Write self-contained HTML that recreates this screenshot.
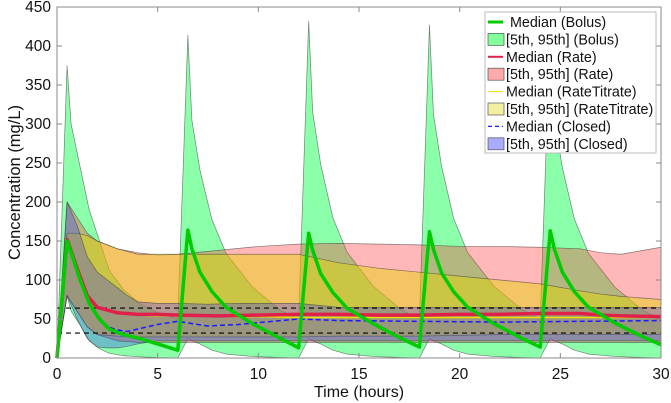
<!DOCTYPE html>
<html><head><meta charset="utf-8"><style>
html,body{margin:0;padding:0;background:#fff;}
svg{display:block;font-family:"Liberation Sans",Arial,sans-serif;}
</style></head><body>
<svg id="chart" width="671" height="403" viewBox="0 0 671 403" xmlns="http://www.w3.org/2000/svg"></svg>
<script>
const bolusT = [0,0.5,0.7,1.15,1.6,2.1,2.6,3.3,4.1,5,6,
 6.5,6.7,7.1,7.7,8.4,9.7,11.1,12,
 12.5,12.7,13.1,13.7,14.4,15.7,17.1,18,
 18.5,18.7,19.1,19.7,20.4,21.7,23.1,24,
 24.5,24.7,25.1,25.7,26.4,27.7,29.1,30];
const bolusUpper = [0,375,300,245,190,151,112,88,70,58,50,
 414,305,241,177,134,91,61,50,
 432,315,248,180,136,92,62,50,
 427,312,246,179,135,92,62,50,
 420,308,244,178,134,91,61,50];
const bolusLower = [0,80,60,42,22,12,6,3,1.5,0.5,0,
 25,22,18,10,5,2,0.5,0,
 25,22,18,10,5,2,0.5,0,
 25,22,18,10,5,2,0.5,0,
 25,22,18,10,5,2,0.5,0];
const bolusMedian = [0,150,135,100,70,50,37,30,25,18,10,
 164,140,110,85,65,44,25,13,
 160,138,108,84,64,44,25,14,
 162,139,109,85,65,44,25,14,
 163,140,110,85,65,45,27,17];

const rateT = [0,0.5,1,1.5,2,3,4,5,6,8,10,12,14,16,18,20,22,24,26,27,28,30];
const rateUpper = [0,200,180,160,150,140,135,132,133,138,143,146,147,146,145,143,143,142,140,135,133,142];
const rateLower = [0,80,60,40,30,22,20,20,20,20,20,20,20,20,20,20,20,20,20,20,20,20];
const rateMedian = [0,152,115,80,65,58,56,56,55,54,55,56,56,55,55,56,56,57,57,55,54,53];

const titrUpper = [0,160,160,157,150,140,133,133,133,133,133,133,122,115,110,105,100,95,86,82,79,75];
const titrLower = [0,80,60,40,30,28,27,27,27,27,27,27,28,28,28,29,30,30,30,30,30,30];
const titrMedian = [0,148,110,80,65,57,55,54,54,53,53,52,52,52,52,52,52,52,52,52,52,52];

const closedT = [0,0.5,1,1.5,2,2.5,3,3.5,4,5,6,7.5,9,12,14,18,22,26,30];
const closedUpper = [0,200,170,130,110,100,90,80,72,70,70,69,70,70,65,65,65,65,65];
const closedLower = [0,80,50,25,14,13,13,15,18,22,22,22,22,22,22,22,22,22,22];
const closedMedian = [0,150,110,75,55,40,36,34,37,43,47,41,43,50,48,47,46,47,48];

const targetLines = [64,32];
const xTicks = [0,5,10,15,20,25,30];
const yTicks = [0,50,100,150,200,250,300,350,400,450];

const L=57,R=661,T=7,B=358;
const xs=v=>L+(v/30)*(R-L);
const ys=v=>B-(v/450)*(B-T);
const NS="http://www.w3.org/2000/svg";
const svg=document.getElementById('chart');
function mk(tag,attrs,parent){const e=document.createElementNS(NS,tag);for(const k in attrs)e.setAttribute(k,attrs[k]);(parent||svg).appendChild(e);return e;}

function band(t,up,lo,fill,op,name){
  let d='M'+t.map((v,i)=>xs(v)+','+ys(up[i])).join('L');
  for(let i=t.length-1;i>=0;i--)d+='L'+xs(t[i])+','+ys(lo[i]);
  d+='Z';
  const p=mk('path',{d:d,fill:fill,'fill-opacity':op,stroke:'#333','stroke-opacity':0.6,'stroke-width':0.7,'stroke-linejoin':'round'});
  
  
}
function line(t,v,col,w,dash,name){
  const p=mk('polyline',{points:t.map((x,i)=>xs(x)+','+ys(v[i])).join(' '),fill:'none',stroke:col,'stroke-width':w,'stroke-linejoin':'round'});
  if(dash)p.setAttribute('stroke-dasharray',dash);
  
  
}

mk('rect',{x:L,y:T,width:R-L,height:B-T,fill:'#fff',stroke:'none'});

band(bolusT,bolusUpper,bolusLower,'#00ff44',0.45,'band-bolus');
band(rateT,rateUpper,rateLower,'#ff3030',0.35,'band-rate');
band(rateT,titrUpper,titrLower,'#e6d800',0.45,'band-ratetitrate');
band(closedT,closedUpper,closedLower,'#3030ff',0.3,'band-closed');

targetLines.forEach(v=>{
  const l=mk('line',{x1:L,x2:R,y1:ys(v),y2:ys(v),stroke:'#000','stroke-width':1.1,'stroke-dasharray':'5,4'});
  
  
});

line(rateT,titrMedian,'#e8e000',1.5,null,'median-ratetitrate');
line(rateT,rateMedian,'#e0204a',3.5,null,'median-rate');
line(closedT,closedMedian,'#1a1aff',1.5,'5,3','median-closed');
line(bolusT,bolusMedian,'#00cc00',3.5,null,'median-bolus');

mk('rect',{x:L,y:T,width:R-L,height:B-T,fill:'none',stroke:'#888','stroke-width':1});
const ax=mk('g',{'font-size':'15.5',fill:'#111'});
xTicks.forEach(v=>{
  const x=xs(v);
  mk('line',{x1:x,x2:x,y1:B,y2:B-5,stroke:'#888'},ax);
  mk('line',{x1:x,x2:x,y1:T,y2:T+5,stroke:'#888'},ax);
  const t=mk('text',{x:x,y:B+21,'text-anchor':'middle'},ax);t.textContent=v;
  
  
});
yTicks.forEach(v=>{
  const y=ys(v);
  mk('line',{x1:L,x2:L+5,y1:y,y2:y,stroke:'#888'},ax);
  mk('line',{x1:R,x2:R-5,y1:y,y2:y,stroke:'#888'},ax);
  const t=mk('text',{x:L-6,y:y+5,'text-anchor':'end'},ax);t.textContent=v;
  
  
});
const xt=mk('text',{x:(L+R)/2,y:397,'text-anchor':'middle','font-size':'16',fill:'#111'});xt.textContent='Time (hours)';

const yt=mk('text',{x:0,y:0,transform:'translate(20,'+((T+B)/2)+') rotate(-90)','text-anchor':'middle','font-size':'16.5',fill:'#111'});yt.textContent='Concentration (mg/L)';


const lg=mk('g',{});

mk('rect',{x:485,y:12,width:171,height:141,fill:'#fff',stroke:'#bbb','stroke-width':1},lg);
const entries=[
 ['Median (Bolus)','line','#00cc00',null,3],
 ['[5th, 95th] (Bolus)','patch','#80ff9a'],
 ['Median (Rate)','line','#e0204a',null,2],
 ['[5th, 95th] (Rate)','patch','#ffaaaa'],
 ['Median (RateTitrate)','line','#e8e000',null,1],
 ['[5th, 95th] (RateTitrate)','patch','#f3f0a0'],
 ['Median (Closed)','line','#1a1aff','4,3',1.3],
 ['[5th, 95th] (Closed)','patch','#aaaaff']
];
entries.forEach((e,i)=>{
  const cy=22+i*17.4;
  const g=mk('g',{},lg);
  
  
  if(e[1]==='line'){
    const l=mk('line',{x1:488,x2:503,y1:cy,y2:cy,stroke:e[2],'stroke-width':e[4]},g);
    if(e[3])l.setAttribute('stroke-dasharray',e[3]);
  } else {
    mk('rect',{x:488,y:cy-6,width:16,height:12,fill:e[2],stroke:'#555','stroke-width':0.7},g);
  }
  const t=mk('text',{x:i===0?510:506,y:cy+5,'font-size':'14.3',fill:'#111'},g);
  t.textContent=e[0];
});
</script>
</body></html>
